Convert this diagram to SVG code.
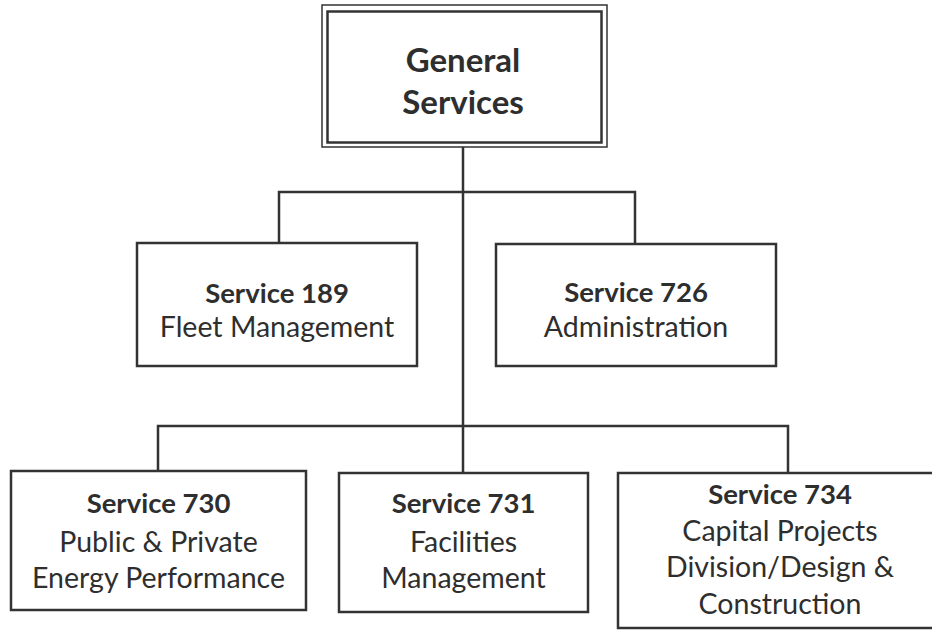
<svg xmlns="http://www.w3.org/2000/svg" width="932" height="630" viewBox="0 0 932 630">
<style>
.box{fill:#fff;stroke:#333;stroke-width:2.5}
.thin{fill:none;stroke:#333;stroke-width:1.5}
.ln{fill:none;stroke:#333;stroke-width:2.5}
text{font-family:Lato,"Liberation Sans",sans-serif;fill:#2e2e2e;text-anchor:middle;font-size:28.5px}
.b{font-weight:bold;font-size:27.5px}
.t{font-weight:bold;font-size:33px}
</style>
<rect width="932" height="630" fill="#fff"/>
<g id="connectors">
<path class="ln" d="M463,147 V473"/>
<path class="ln" d="M279,243 V192 H635 V244"/>
<path class="ln" d="M158,471 V426 H788 V473"/>
</g>
<g id="general">
<rect class="thin" x="322" y="5" width="285" height="142"/>
<rect class="box" x="327.5" y="11.5" width="274" height="131"/>
<text class="t" x="463" y="72">General</text>
<text class="t" x="463" y="114">Services</text>
</g>
<g id="s189">
<rect class="box" x="137" y="243" width="280" height="123"/>
<text class="b" x="277" y="303">Service 189</text>
<text x="277" y="337">Fleet Management</text>
</g>
<g id="s726">
<rect class="box" x="496" y="244" width="280" height="122"/>
<text class="b" x="636" y="302">Service 726</text>
<text x="636" y="337">Administration</text>
</g>
<g id="s730">
<rect class="box" x="11" y="471" width="295" height="139"/>
<text class="b" x="158.5" y="513">Service 730</text>
<text x="158.5" y="552">Public &amp; Private</text>
<text x="158.5" y="588">Energy Performance</text>
</g>
<g id="s731">
<rect class="box" x="339" y="473" width="249" height="139"/>
<text class="b" x="463.5" y="513">Service 731</text>
<text x="463.5" y="552">Facilities</text>
<text x="463.5" y="588">Management</text>
</g>
<g id="s734">
<rect class="box" x="618" y="473" width="330" height="155"/>
<text class="b" x="780" y="504">Service 734</text>
<text x="780" y="541">Capital Projects</text>
<text x="780" y="577">Division/Design &amp;</text>
<text x="780" y="614">Construction</text>
</g>
</svg>
